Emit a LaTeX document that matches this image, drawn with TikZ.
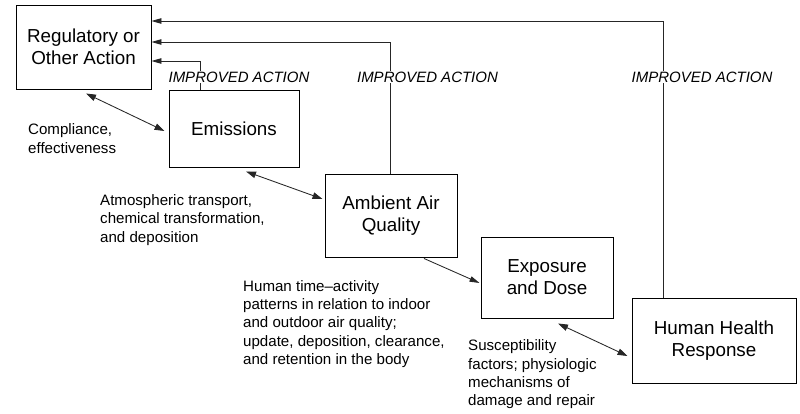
\documentclass[tikz,border=0pt]{standalone}
\usepackage{fontspec}
\setmainfont{Liberation Sans}
\usetikzlibrary{arrows.meta}
\begin{document}
\begin{tikzpicture}[x=1pt,y=-1pt,
 box/.style={draw, line width=0.95pt, inner sep=0pt, align=center, font=\fontsize{18.8}{21.8}\selectfont},
 note/.style={inner sep=0pt, align=left, anchor=west, font=\fontsize{15.1}{18.3}\selectfont},
 act/.style={fill=white, inner sep=1pt, font=\fontsize{15}{18}\selectfont\itshape},
 conn/.style={draw=black!85, line width=0.85pt},
 tip/.style={conn,-{Triangle[length=10pt,width=5.5pt]}},
 dtip/.style={conn,{Triangle[length=10pt,width=6.5pt]}-{Triangle[length=10pt,width=6.5pt]}}]
\useasboundingbox[fill=white] (0,0) rectangle (800,413);
% boxes
\node[box, minimum width=135pt, minimum height=84pt] (reg) at (83.5,47) {Regulatory or\\Other Action};
\node[box, minimum width=130pt, minimum height=77pt] (emis) at (234,128.5) {Emissions};
\node[box, minimum width=132pt, minimum height=83pt] (amb) at (391,215.5) {Ambient Air\\Quality};
\node[box, minimum width=132pt, minimum height=81pt] (exp) at (547,277.5) {Exposure\\and Dose};
\node[box, minimum width=164pt, minimum height=85pt] (hum) at (714,340.5) {Human Health\\Response};
% feedback lines
\coordinate (c1) at (663,21);
\coordinate (c2) at (390,42);
\coordinate (c3) at (200,61);
\draw[tip] (hum.north -| c1) |- (c1 -| reg.east);
\draw[tip] (amb.north -| c2) |- (c2 -| reg.east);
\draw[tip] (emis.north -| c3) |- (c3 -| reg.east);
\node[act] (l1) at (239,77) {IMPROVED ACTION};
\node[act] (l2) at (427.5,77) {IMPROVED ACTION};
\node[act] (l3) at (702,77) {IMPROVED ACTION};
% chain arrows
\draw[dtip] ([xshift=2.5pt,yshift=-4pt]reg.south) -- ([xshift=-4pt,yshift=-2.5pt]emis.west);
\draw[dtip] ([xshift=12pt,yshift=-4pt]emis.south) -- ([xshift=-2pt,yshift=16.5pt]amb.west);
\draw[tip] ([xshift=33pt,yshift=-1pt]amb.south) -- ([xshift=-1pt,yshift=-5.5pt]exp.west);
\draw[dtip] ([xshift=11pt,yshift=-5pt]exp.south) -- ([xshift=-4pt,yshift=-15.5pt]hum.west);
% notes
\node[note] (n1) at (28,138.5) {Compliance,\\effectiveness};
\node[note] (n2) at (100,220) {Atmospheric transport,\\chemical transformation,\\and deposition};
\node[note] (n3) at (243,324) {Human time–activity\\patterns in relation to indoor\\and outdoor air quality;\\update, deposition, clearance,\\and retention in the body};
\node[note] (n4) at (468,374.5) {Susceptibility\\factors; physiologic\\mechanisms of\\damage and repair};
\end{tikzpicture}
\end{document}
